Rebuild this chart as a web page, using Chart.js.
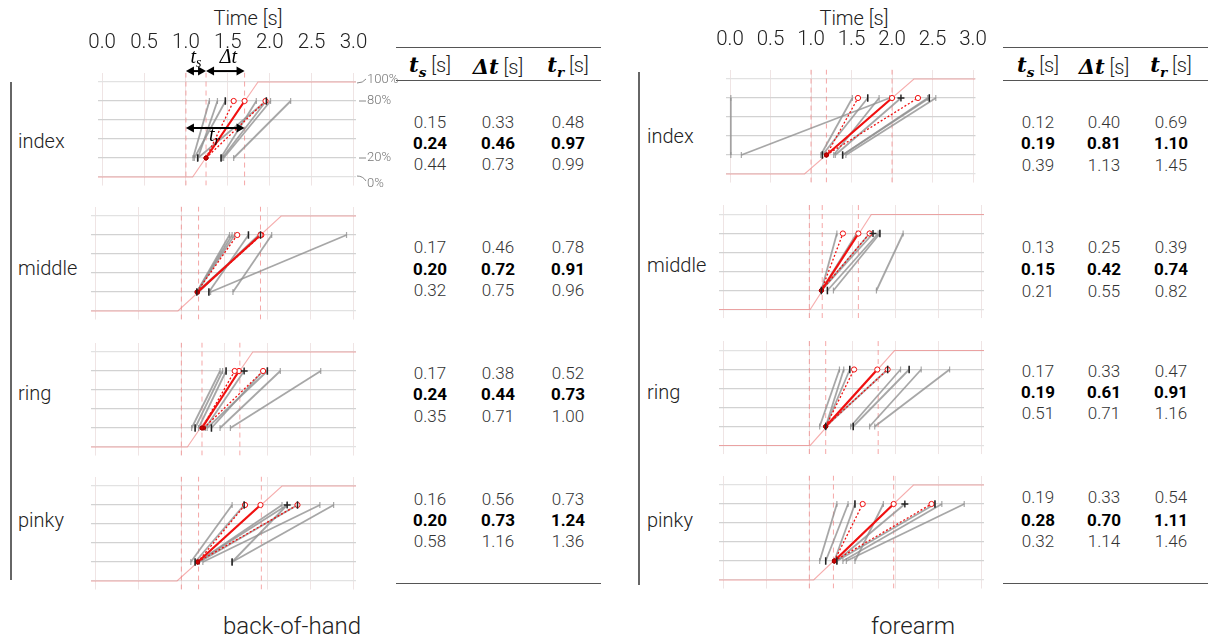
<!DOCTYPE html>
<html lang="en">
<head>
<meta charset="UTF-8">
<title>Response times per finger</title>
<script src="https://cdn.jsdelivr.net/npm/chart.js"></script>
<style>
  body { margin: 0; background: #fff; font-family: Roboto, "Noto Sans", sans-serif; font-weight: 300; color: #222; }
  #fig { position: relative; width: 1212px; height: 642px; overflow: hidden; }
  #fig canvas { position: absolute; }
  .c { position: absolute; white-space: nowrap; transform: translate(-50%, -50%); }
  .lbl { position: absolute; white-space: nowrap; font-size: 20px; transform: translateY(-50%); }
  .num { font-size: 17px; color: #333; }
  .num.med { font-weight: 700; color: #000; }
  .hd { font-size: 20px; color: #222; }
  .m { font-family: "DejaVu Serif", serif; font-weight: bold; font-style: italic; color: #000; font-size: 21px; }
  .m sub { font-size: 0.65em; }
  .rule { position: absolute; height: 0; border-top: 1.3px solid #555; }
  .vbar { position: absolute; width: 0; border-left: 2px solid #666; }
</style>
</head>
<body>
<div id="fig"></div>

<script>
const xTicks = [0, 0.5, 1, 1.5, 2, 2.5, 3];
const yTicks = [0, 20, 40, 60, 80, 100];
const fingers = ['index', 'middle', 'ring', 'pinky'];
const placements = ['back-of-hand', 'forearm'];
const stimOnset = 1.0;

// gray trials: [time at 20%, time at 80%]
const backTrials = [
    [[1.085, 1.28], [1.143, 1.376], [1.10, 1.473], [1.143, 1.957], [1.415, 1.84], [1.434, 1.957], [1.45, 2.01], [1.57, 2.25]],
    [[1.18, 1.56], [1.18, 1.59], [1.18, 1.62], [1.32, 1.78], [1.34, 2.92], [1.60, 2.05], [1.18, 1.92], [1.20, 1.90]],
    [[1.12, 1.45], [1.16, 1.48], [1.20, 1.52], [1.28, 1.73], [1.35, 1.95], [1.45, 2.15], [1.57, 2.62], [1.30, 2.00]],
    [[1.11, 1.59], [1.16, 1.73], [1.19, 2.17], [1.19, 2.23], [1.25, 2.61], [1.59, 2.23], [1.59, 2.77], [1.21, 2.35]]
];
const foreTrials = [
    [[0.01, 0.01], [0.14, 1.97], [1.12, 1.51], [1.14, 1.70], [1.28, 1.84], [1.39, 2.44], [1.43, 2.54], [1.39, 2.46], [1.30, 2.11]],
    [[1.14, 1.32], [1.14, 1.70], [1.14, 1.74], [1.21, 1.80], [1.28, 1.82], [1.78, 2.09], [1.14, 1.55]],
    [[1.12, 1.35], [1.19, 1.40], [1.19, 1.47], [1.48, 2.06], [1.51, 2.16], [1.70, 2.30], [1.76, 2.63], [1.19, 1.91]],
    [[1.12, 1.32], [1.19, 1.45], [1.29, 1.53], [1.32, 2.11], [1.32, 2.46], [1.39, 2.54], [1.43, 2.80], [1.53, 1.86]]
];

// red lines: [dotted, solid, dotted]
const backRed = [
    [[1.24, 1.57], [1.24, 1.70], [1.24, 1.95]],
    [[1.18, 1.65], [1.19, 1.92], [1.19, 1.93]],
    [[1.24, 1.62], [1.24, 1.67], [1.26, 1.95]],
    [[1.19, 1.74], [1.19, 1.92], [1.19, 2.35]]
];
const foreRed = [
    [[1.19, 1.58], [1.19, 2.00], [1.19, 2.32]],
    [[1.14, 1.39], [1.14, 1.57], [1.14, 1.70]],
    [[1.19, 1.52], [1.19, 1.79], [1.19, 1.91]],
    [[1.29, 1.62], [1.29, 1.98], [1.29, 2.42]]
];

// light red ramp: [leaves 0%, reaches 100%]
const backRamp = [[1.08, 1.86], [0.96, 2.16], [1.07, 1.83], [0.95, 2.17]];
const foreRamp = [[0.92, 2.27], [1.01, 1.72], [1.01, 1.99], [1.05, 2.21]];

// black marks: [time, level]
const backTicks = [
    [[1.47, 80], [1.96, 80], [1.14, 20], [1.42, 20]],
    [[1.78, 80], [1.92, 80], [1.18, 20], [1.32, 20]],
    [[1.52, 80], [2.00, 80], [1.16, 20], [1.35, 20]],
    [[1.73, 80], [2.35, 80], [1.16, 20], [1.59, 20]]
];
const foreTicks = [
    [[1.70, 80], [2.46, 80], [1.14, 20], [1.39, 20]],
    [[1.82, 80], [1.21, 20], [1.14, 20]],
    [[1.47, 80], [1.91, 80], [2.16, 80], [1.19, 20], [1.51, 20]],
    [[1.53, 80], [2.46, 80], [1.19, 20], [1.32, 20]]
];
const backPlus = [[], [], [[1.73, 80]], [[2.23, 80]]];
const forePlus = [[[2.11, 80]], [[1.74, 80]], [], [[2.11, 80]]];

// tables, per finger: [lower, median, upper]
const backTs = [[0.15, 0.24, 0.44], [0.17, 0.20, 0.32], [0.17, 0.24, 0.35], [0.16, 0.20, 0.58]];
const backDt = [[0.33, 0.46, 0.73], [0.46, 0.72, 0.75], [0.38, 0.44, 0.71], [0.56, 0.73, 1.16]];
const backTr = [[0.48, 0.97, 0.99], [0.78, 0.91, 0.96], [0.52, 0.73, 1.00], [0.73, 1.24, 1.36]];
const foreTs = [[0.12, 0.19, 0.39], [0.13, 0.15, 0.21], [0.17, 0.19, 0.51], [0.19, 0.28, 0.32]];
const foreDt = [[0.40, 0.81, 1.13], [0.25, 0.42, 0.55], [0.33, 0.61, 0.71], [0.33, 0.70, 1.14]];
const foreTr = [[0.69, 1.10, 1.45], [0.39, 0.74, 0.82], [0.47, 0.91, 1.16], [0.54, 1.11, 1.46]];

// ---- layout ----
const fig = document.getElementById('fig');
const areaLeft = [91, 719], areaRight = [356, 984];
const row100 = [[82, 216, 352, 486], [79, 214.5, 350.5, 485]];
const pxPerPct = 0.95;
const tableLeft = [396, 1003];
const tableCols = [[430, 498, 568], [1038, 1104, 1171]];
const tableRows = [
    [[122, 143, 164], [247, 269, 290], [373, 394, 416], [499, 520, 541]],
    [[122, 143, 165], [247, 269, 291], [371, 392, 413], [497, 520, 541]]
];
const labelRows = [[141, 268, 393, 520], [136, 265, 392, 520]];
const labelX = [18, 647];

const GRAY = 'rgba(145,145,145,0.8)';
const RED = '#f01010';
const PINK = 'rgba(240,120,120,0.6)';

function addText(html, cls, x, y, style) {
    const d = document.createElement('div');
    d.className = cls;
    d.innerHTML = html;
    d.style.left = x + 'px';
    d.style.top = y + 'px';
    if (style) Object.assign(d.style, style);
    fig.appendChild(d);
    return d;
}

function arrow(ctx, x1, x2, y) {
    ctx.beginPath(); ctx.moveTo(x1 + 4, y); ctx.lineTo(x2 - 4, y); ctx.stroke();
    ctx.beginPath(); ctx.moveTo(x1, y); ctx.lineTo(x1 + 8, y - 4.5); ctx.lineTo(x1 + 8, y + 4.5); ctx.closePath(); ctx.fill();
    ctx.beginPath(); ctx.moveTo(x2, y); ctx.lineTo(x2 - 8, y - 4.5); ctx.lineTo(x2 - 8, y + 4.5); ctx.closePath(); ctx.fill();
}

function mathLabel(ctx, main, sub, cx, cy) {
    ctx.font = 'italic 20px "Liberation Serif", serif';
    const w1 = ctx.measureText(main).width;
    ctx.font = 'italic 14px "Liberation Serif", serif';
    const w2 = sub ? ctx.measureText(sub).width : 0;
    const x0 = cx - (w1 + w2) / 2;
    ctx.textBaseline = 'middle';
    ctx.textAlign = 'left';
    ctx.font = 'italic 20px "Liberation Serif", serif';
    ctx.fillText(main, x0, cy);
    if (sub) {
        ctx.font = 'italic 14px "Liberation Serif", serif';
        ctx.fillText(sub, x0 + w1, cy + 5);
    }
}

// arrows, t_s / Δt / t_r and the % labels on the first panel
const guidePlugin = {
    id: 'guide',
    afterDatasetsDraw(chart, args, opts) {
        const {ctx, chartArea: a, scales: {x, y}} = chart;
        ctx.save();
        ctx.strokeStyle = '#000'; ctx.fillStyle = '#000'; ctx.lineWidth = 2;
        const x0 = x.getPixelForValue(stimOnset);
        const x1 = x.getPixelForValue(stimOnset + opts.ts);
        const x2 = x.getPixelForValue(stimOnset + opts.ts + opts.dt);
        const yTop = y.getPixelForValue(111.5);
        arrow(ctx, x0, x1, yTop);
        arrow(ctx, x1, x2, yTop);
        const yMid = y.getPixelForValue(51.5);
        arrow(ctx, x0, x2, yMid);
        mathLabel(ctx, 't', 's', (x0 + x1) / 2, yTop - 13);
        mathLabel(ctx, 'Δt', '', (x1 + x2) / 2 + 3, yTop - 13);
        mathLabel(ctx, 't', 'r', x.getPixelForValue(1.34), yMid + 8);

        ctx.strokeStyle = '#888'; ctx.fillStyle = '#777'; ctx.lineWidth = 1;
        ctx.font = '300 13px Roboto, sans-serif';
        ctx.textAlign = 'left'; ctx.textBaseline = 'middle';
        const r = a.right;
        [80, 20].forEach(v => {
            const py = y.getPixelForValue(v);
            ctx.beginPath(); ctx.moveTo(r + 3, py); ctx.lineTo(r + 10, py); ctx.stroke();
            ctx.fillText(v + '%', r + 11, py);
        });
        const p100 = y.getPixelForValue(100);
        ctx.beginPath(); ctx.moveTo(r + 1, p100 + 1); ctx.quadraticCurveTo(r + 7, p100 + 1, r + 10, p100 - 3); ctx.stroke();
        ctx.fillText('100%', r + 11, p100 - 2);
        const p0 = y.getPixelForValue(0);
        ctx.beginPath(); ctx.moveTo(r + 1, p0 - 1); ctx.quadraticCurveTo(r + 7, p0 - 1, r + 10, p0 + 4); ctx.stroke();
        ctx.fillText('0%', r + 11, p0 + 7);
        ctx.restore();
    }
};

function seg(a, b, color, width, extra) {
    return Object.assign({
        data: [{x: a, y: 20}, {x: b, y: 80}],
        showLine: true,
        borderColor: color,
        borderWidth: width,
        pointStyle: 'line',
        pointRotation: 90,
        pointRadius: 3,
        pointBorderColor: color,
        pointBorderWidth: 1.2,
        order: 5
    }, extra || {});
}

function makePanel(g, f) {
    const trials = [backTrials, foreTrials][g][f];
    const red = [backRed, foreRed][g][f];
    const ramp = [backRamp, foreRamp][g][f];
    const ticks = [backTicks, foreTicks][g][f];
    const plus = [backPlus, forePlus][g][f];
    const ts = [backTs, foreTs][g][f][1];
    const dt = [backDt, foreDt][g][f][1];

    const top = row100[g][f] - 10 * pxPerPct;
    const bottom = row100[g][f] + 109 * pxPerPct;
    const L = areaLeft[g], R = areaRight[g];
    const withAxis = f === 0;
    const guide = g === 0 && f === 0;
    const padL = 20, padR = guide ? 48 : 20;
    const canvasTop = withAxis ? 0 : Math.floor(top) - 6;
    const padT = withAxis ? 0 : top - canvasTop;
    const axisH = withAxis ? top : 0;
    const height = Math.ceil(bottom - canvasTop + 14);
    const padB = height - (bottom - canvasTop);

    const canvas = document.createElement('canvas');
    canvas.width = (R - L) + padL + padR;
    canvas.height = height;
    canvas.style.left = (L - padL) + 'px';
    canvas.style.top = canvasTop + 'px';
    canvas.style.width = canvas.width + 'px';
    canvas.style.height = canvas.height + 'px';
    fig.appendChild(canvas);

    const datasets = [];
    datasets.push({
        data: [{x: -0.05, y: 0}, {x: ramp[0], y: 0}, {x: ramp[1], y: 100}, {x: 3.03, y: 100}],
        showLine: true, borderColor: PINK, borderWidth: 1.2, pointRadius: 0, order: 20
    });
    [stimOnset, stimOnset + ts, stimOnset + ts + dt].forEach(v => datasets.push({
        data: [{x: v, y: -9}, {x: v, y: 110}],
        showLine: true, borderColor: 'rgba(240,120,120,0.65)', borderWidth: 1,
        borderDash: [5, 4], pointRadius: 0, order: 15
    }));
    trials.forEach(t => datasets.push(seg(t[0], t[1], GRAY, 1.8)));
    red.forEach((t, k) => datasets.push(seg(t[0], t[1], RED, k === 1 ? 2.2 : 1.3, {
        borderDash: k === 1 ? [] : [2, 2],
        pointStyle: 'circle', pointRotation: 0,
        pointRadius: [2, 2.6],
        pointBorderColor: ['#a00', RED],
        pointBackgroundColor: ['#c00', '#fff'],
        pointBorderWidth: 1,
        order: 2
    })));
    datasets.push({
        data: ticks.map(p => ({x: p[0], y: p[1]})),
        pointStyle: 'line', pointRotation: 90, pointRadius: 3.8,
        pointBorderColor: '#222', pointBorderWidth: 1.5, order: 1
    });
    datasets.push({
        data: plus.map(p => ({x: p[0], y: p[1]})),
        pointStyle: 'cross', pointRadius: 3.5,
        pointBorderColor: '#222', pointBorderWidth: 1.3, order: 1
    });

    new Chart(canvas, {
        type: 'scatter',
        data: {datasets},
        plugins: guide ? [guidePlugin] : [],
        options: {
            responsive: false,
            animation: false,
            events: [],
            layout: {padding: {left: padL, right: padR, top: padT, bottom: padB}},
            plugins: {
                legend: {display: false},
                tooltip: {enabled: false},
                guide: {ts, dt}
            },
            scales: {
                x: {
                    type: 'linear',
                    position: 'top',
                    min: -0.05,
                    max: 3.03,
                    afterBuildTicks: s => { s.ticks = xTicks.map(v => ({value: v})); },
                    afterFit: s => { s.height = axisH; },
                    border: {display: false},
                    grid: {color: 'rgba(225,205,205,0.55)', lineWidth: 1, drawTicks: false},
                    ticks: {
                        display: withAxis,
                        autoSkip: false,
                        maxRotation: 0,
                        padding: 17,
                        color: '#222',
                        font: {family: 'Roboto', size: 20.5, weight: '300'},
                        callback: v => v.toFixed(1)
                    }
                },
                y: {
                    min: -9,
                    max: 110,
                    afterBuildTicks: s => { s.ticks = yTicks.map(v => ({value: v})); },
                    afterFit: s => { s.width = 0; },
                    border: {display: false},
                    grid: {
                        color: c => (c.tick && (c.tick.value === 0 || c.tick.value === 100)) ? '#e2e2e2' : '#d2d2d2',
                        lineWidth: 1.2,
                        drawTicks: false
                    },
                    ticks: {display: false}
                }
            }
        }
    });
}

// ---- text, tables, rules ----
[0, 1].forEach(g => {
    addText('Time [s]', 'c', g === 0 ? 248 : 854, 18, {fontSize: '20px'});
    addText(placements[g], 'c', g === 0 ? 292 : 913, 626, {fontSize: '24px'});

    const bar = document.createElement('div');
    bar.className = 'vbar';
    bar.style.left = (g === 0 ? 10 : 638) + 'px';
    bar.style.top = (g === 0 ? 82 : 72) + 'px';
    bar.style.height = (g === 0 ? 498 : 513) + 'px';
    fig.appendChild(bar);

    [47, 80, 583].forEach(yy => {
        const r = document.createElement('div');
        r.className = 'rule';
        r.style.left = tableLeft[g] + 'px';
        r.style.top = yy + 'px';
        r.style.width = '205px';
        fig.appendChild(r);
    });

    const heads = ['<span class="m">t<sub>s</sub></span> [s]', '<span class="m">Δt</span> [s]', '<span class="m">t<sub>r</sub></span> [s]'];
    heads.forEach((h, k) => addText(h, 'c hd', tableCols[g][k], 66));

    const cols = g === 0 ? [backTs, backDt, backTr] : [foreTs, foreDt, foreTr];
    fingers.forEach((name, f) => {
        addText(name, 'lbl', labelX[g], labelRows[g][f]);
        for (let q = 0; q < 3; q++) {
            cols.forEach((tab, k) => {
                addText(tab[f][q].toFixed(2), 'c num' + (q === 1 ? ' med' : ''), tableCols[g][k], tableRows[g][f][q]);
            });
        }
        makePanel(g, f);
    });
});
</script>
</body>
</html>
